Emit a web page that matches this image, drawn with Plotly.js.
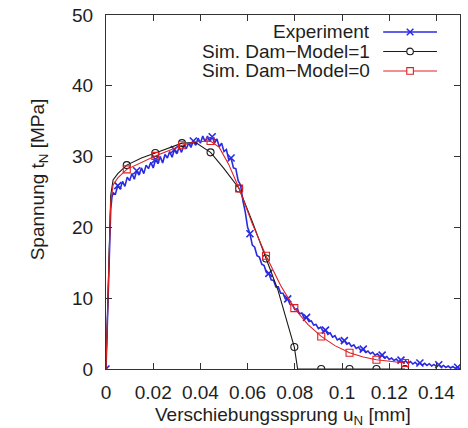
<!DOCTYPE html>
<html>
<head>
<meta charset="utf-8">
<script src="https://cdn.plot.ly/plotly-3.0.1.min.js"></script>
<style>html,body{margin:0;padding:0;background:#fff;}#chart{width:468px;height:428px;}</style>
</head>
<body>
<div id="chart"></div>
<script>
// Experiment (blue)
const expX = [0,0.0005,0.001,0.0015,0.002,0.0025,0.003,0.004,0.005,0.006,0.007,0.008,0.009,0.010,0.011,0.012,0.013,0.014,0.015,0.016,0.017,0.018,0.019,0.020,0.021,0.022,0.023,0.024,0.025,0.026,0.027,0.028,0.029,0.030,0.031,0.032,0.033,0.034,0.035,0.036,0.037,0.038,0.039,0.040,0.041,0.042,0.043,0.044,0.045,0.046,0.047,0.048,0.049,0.050,0.051,0.052,0.053,0.054,0.055,0.056,0.057,0.058,0.059,0.060,0.061,0.062,0.063,0.064,0.065,0.066,0.067,0.068,0.069,0.070,0.071,0.072,0.073,0.074,0.075,0.076,0.077,0.078,0.079,0.080,0.081,0.082,0.083,0.084,0.085,0.086,0.087,0.088,0.089,0.090,0.091,0.092,0.093,0.094,0.095,0.096,0.097,0.098,0.099,0.100,0.101,0.102,0.103,0.104,0.105,0.106,0.107,0.108,0.109,0.110,0.111,0.112,0.113,0.114,0.115,0.116,0.117,0.118,0.119,0.120,0.121,0.122,0.123,0.124,0.125,0.126,0.127,0.128,0.129,0.130,0.131,0.132,0.133,0.134,0.135,0.136,0.137,0.138,0.139,0.140,0.141,0.142,0.143,0.144,0.145,0.146,0.147,0.148,0.149,0.150];
const expY = [0,6,13,19,22.5,24.2,24.9,24.7,25.9,25.4,26.5,25.8,27.1,26.6,27.6,26.8,28.0,27.4,28.4,27.6,28.8,28.3,29.2,28.4,29.6,29.0,30.0,29.1,30.3,29.8,30.7,29.9,31.0,30.4,31.3,30.6,31.6,31.1,31.9,31.3,32.2,31.6,32.6,31.9,32.9,32.1,32.9,32.1,32.8,31.9,32.5,31.4,31.9,30.7,31.0,29.6,29.8,28.4,28.3,26.6,26.0,23.8,22.2,20.0,19.1,17.5,17.2,16.0,15.8,14.8,14.6,13.6,13.5,12.6,12.5,11.6,11.6,10.7,10.7,9.9,9.9,9.1,9.1,8.4,8.5,7.8,7.9,7.2,7.3,6.7,6.8,6.2,6.3,5.7,5.9,5.3,5.5,4.9,5.1,4.5,4.7,4.1,4.3,3.8,4.0,3.5,3.7,3.2,3.4,2.9,3.1,2.6,2.8,2.35,2.55,2.15,2.35,1.95,2.15,1.75,1.95,1.55,1.75,1.35,1.55,1.2,1.4,1.05,1.25,0.9,1.15,0.8,1.05,0.7,0.95,0.6,0.85,0.55,0.8,0.5,0.75,0.42,0.65,0.35,0.6,0.3,0.5,0.22,0.42,0.15,0.35,0.1,0.25,0.05];

// Sim. Dam-Model=1 (black)
const sim1X = [0,0.0005,0.001,0.0015,0.002,0.003,0.005,0.0088,0.015,0.0209,0.027,0.0322,0.038,0.0443,0.050,0.0564,0.062,0.0678,0.0728,0.0798,0.0812,0.0912,0.1032,0.1146,0.1267];
const sim1Y = [0,6.5,14,20.5,24.5,26.7,27.6,28.8,29.8,30.5,31.3,31.9,32.0,30.6,28.3,25.5,20.8,15.6,11.2,3.1,0,0,0,0,0];
const sim1MarkerIdx = [7,9,11,13,15,17,19,21,22,23,24];

// Sim. Dam-Model=0 (red)
const sim0X = [0,0.0005,0.001,0.0015,0.002,0.003,0.005,0.0088,0.015,0.0209,0.027,0.0322,0.038,0.0443,0.048,0.052,0.0564,0.062,0.0678,0.074,0.0798,0.0855,0.0912,0.097,0.1032,0.109,0.1146,0.121,0.1267];
const sim0Y = [0,6,13,19.5,23.5,26.0,27.0,28.2,29.2,30.1,30.9,31.6,32.1,32.2,31.3,28.9,25.5,20.5,16.0,11.8,8.6,6.3,4.6,3.3,2.3,1.7,1.3,1.05,0.85];
const sim0MarkerIdx = [7,9,11,13,16,18,20,22,24,26,28];

const legendLabels = ["Experiment","Sim. Dam\u2212Model=1","Sim. Dam\u2212Model=0"];
const xTicks = [0,0.02,0.04,0.06,0.08,0.1,0.12,0.14];
const xTickText = ["0","0.02","0.04","0.06","0.08","0.1","0.12","0.14"];
const yTicks = [0,10,20,30,40,50];

const BLUE = "#2a2ae0", BLACK = "#1a1a1a", RED = "#e02020";
const FONT = "Liberation Sans, Arial, sans-serif";
const TXT = "#1e1e1e";

function pick(arr, idx){ return idx.map(i => arr[i]); }
const expMarkIdx = expX.map((_, i) => i).filter(i => i % 8 === 0);

const traces = [
  {x: expX, y: expY, mode: "lines", line: {color: BLUE, width: 1.6}, showlegend: false, hoverinfo: "skip"},
  {x: pick(expX, expMarkIdx), y: pick(expY, expMarkIdx), mode: "markers", marker: {symbol: "x-thin-open", size: 7, color: BLUE, line: {color: BLUE, width: 1.6}}, showlegend: false},
  {x: sim1X, y: sim1Y, mode: "lines", line: {color: BLACK, width: 1.1}, showlegend: false},
  {x: pick(sim1X, sim1MarkerIdx), y: pick(sim1Y, sim1MarkerIdx), mode: "markers", marker: {symbol: "circle-open", size: 7, color: BLACK, line: {color: BLACK, width: 1.1}}, showlegend: false},
  {x: sim0X, y: sim0Y, mode: "lines", line: {color: RED, width: 1.1}, showlegend: false},
  {x: pick(sim0X, sim0MarkerIdx), y: pick(sim0Y, sim0MarkerIdx), mode: "markers", marker: {symbol: "square-open", size: 7, color: RED, line: {color: RED, width: 1.1}}, showlegend: false}
];

// Custom gnuplot-style legend (text right, sample on the right)
const rowsY = [0.952, 0.897, 0.842];
const colors = [BLUE, BLACK, RED];
const textRight = 0.752, lineL = 0.783, lineR = 0.935, mk = 0.859;
const annotations = legendLabels.map((t, i) => ({
  xref: "paper", yref: "paper", x: textRight, y: rowsY[i], xanchor: "right", yanchor: "middle",
  text: t, showarrow: false, font: {family: FONT, size: 19, color: TXT}
}));
annotations.push({xref: "paper", yref: "paper", x: 0.5, y: -0.133, xanchor: "center", yanchor: "middle",
  text: "Verschiebungssprung u<sub>N</sub> [mm]", showarrow: false, font: {family: FONT, size: 19, color: TXT}});
annotations.push({xref: "paper", yref: "paper", x: -0.19, y: 0.535, xanchor: "center", yanchor: "middle", textangle: -90,
  text: "Spannung t<sub>N</sub> [MPa]", showarrow: false, font: {family: FONT, size: 19, color: TXT}});

const shapes = [];
const r = 3.3/354;
legendLabels.forEach((t, i) => {
  const y = rowsY[i];
  shapes.push({type: "line", xref: "paper", yref: "paper", x0: lineL, x1: lineR, y0: y, y1: y, line: {color: colors[i], width: i === 0 ? 1.6 : 1.1}});
});
// markers on legend samples
shapes.push({type: "line", xref: "paper", yref: "paper", x0: mk - r, x1: mk + r, y0: rowsY[0] - r, y1: rowsY[0] + r, line: {color: BLUE, width: 1.5}});
shapes.push({type: "line", xref: "paper", yref: "paper", x0: mk - r, x1: mk + r, y0: rowsY[0] + r, y1: rowsY[0] - r, line: {color: BLUE, width: 1.5}});
shapes.push({type: "circle", xref: "paper", yref: "paper", x0: mk - r, x1: mk + r, y0: rowsY[1] - r, y1: rowsY[1] + r, fillcolor: "#fff", line: {color: BLACK, width: 1.1}});
shapes.push({type: "rect", xref: "paper", yref: "paper", x0: mk - r, x1: mk + r, y0: rowsY[2] - r, y1: rowsY[2] + r, fillcolor: "#fff", line: {color: RED, width: 1.1}});

const layout = {
  width: 468, height: 428,
  margin: {l: 106, r: 8, t: 15, b: 59, pad: 0},
  paper_bgcolor: "#fff", plot_bgcolor: "#fff",
  showlegend: false,
  font: {family: FONT, size: 19, color: TXT},
  xaxis: {
    range: [0, 0.15], tickvals: xTicks, ticktext: xTickText,
    ticks: "inside", ticklen: 6, tickcolor: "#333", tickwidth: 1,
    showline: true, mirror: "ticks", linecolor: "#333", linewidth: 1,
    showgrid: false, zeroline: false, ticklabelstandoff: 6,
    tickfont: {family: FONT, size: 19, color: TXT}
  },
  yaxis: {
    range: [0, 50], tickvals: yTicks,
    ticks: "inside", ticklen: 6, tickcolor: "#333", tickwidth: 1,
    showline: true, mirror: "ticks", linecolor: "#333", linewidth: 1,
    showgrid: false, zeroline: false, ticklabelstandoff: 8,
    tickfont: {family: FONT, size: 19, color: TXT}
  },
  annotations: annotations,
  shapes: shapes
};

Plotly.newPlot("chart", traces, layout, {staticPlot: true, displayModeBar: false});
</script>
</body>
</html>
